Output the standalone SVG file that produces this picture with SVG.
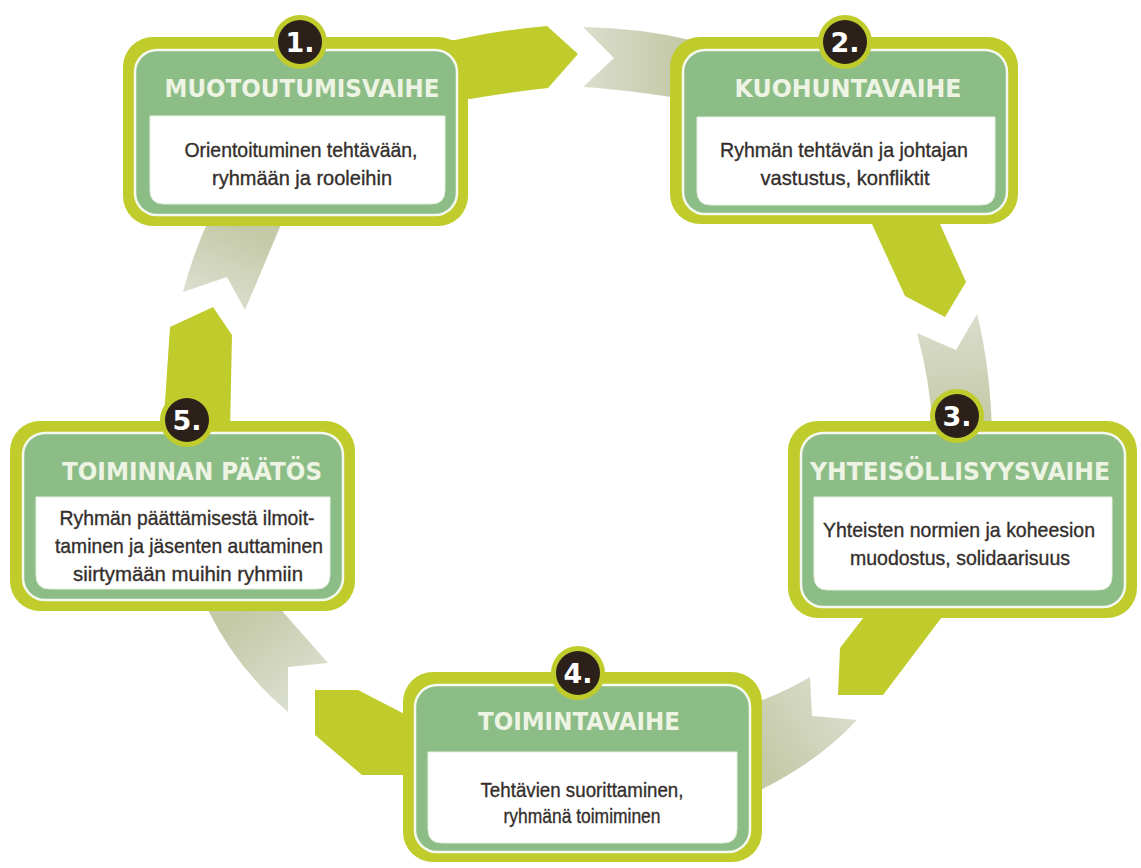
<svg xmlns="http://www.w3.org/2000/svg" width="1141" height="868" viewBox="0 0 1141 868">
<defs>
<style>
.lime{fill:#bfcc2b}
.frame{fill:#bfcc2b}
.panel{fill:#8dbd87;stroke:#f4f8ee;stroke-width:2.5}
.body{fill:#ffffff;stroke:#e6efe0;stroke-width:1}
.title{font-family:"DejaVu Sans",Verdana,sans-serif;font-weight:bold;font-size:24px;fill:#eef4e4;text-anchor:middle}
.txt{font-family:"Liberation Sans",Arial,sans-serif;font-size:21px;fill:#332e2b;stroke:#332e2b;stroke-width:0.35;text-anchor:middle}
.ring{fill:#bfcc2b}
.dot{fill:#2c201b}
.num{font-family:"DejaVu Sans",Verdana,sans-serif;font-weight:bold;font-size:27px;fill:#ffffff;text-anchor:middle}
</style>
<linearGradient id="g12" gradientUnits="userSpaceOnUse" x1="583" y1="60" x2="680" y2="60"><stop offset="0" stop-color="#dadecd"/><stop offset="1" stop-color="#c4c9a7"/></linearGradient>
<linearGradient id="g23" gradientUnits="userSpaceOnUse" x1="950" y1="315" x2="960" y2="425"><stop offset="0" stop-color="#dadecd"/><stop offset="1" stop-color="#c4c9a7"/></linearGradient>
<linearGradient id="g34" gradientUnits="userSpaceOnUse" x1="850" y1="700" x2="760" y2="760"><stop offset="0" stop-color="#dadecd"/><stop offset="1" stop-color="#c4c9a7"/></linearGradient>
<linearGradient id="g45" gradientUnits="userSpaceOnUse" x1="305" y1="690" x2="245" y2="612"><stop offset="0" stop-color="#dadecd"/><stop offset="1" stop-color="#c4c9a7"/></linearGradient>
<linearGradient id="g51" gradientUnits="userSpaceOnUse" x1="215" y1="300" x2="245" y2="228"><stop offset="0" stop-color="#dadecd"/><stop offset="1" stop-color="#c4c9a7"/></linearGradient>
</defs>
<rect width="1141" height="868" fill="#ffffff"/>

<g id="connectors">
  <!-- 1 -> 2 -->
  <path class="lime" d="M430 40 L455 40 Q500 30 547 26 L578 54 L548 88 Q510 92 470 99 L430 99 Z"/>
  <path fill="url(#g12)" d="M583 27 L614 58 L583 87 Q630 90 690 100 L690 40 Q640 28 583 27 Z"/>
  <!-- 2 -> 3 -->
  <path class="lime" d="M868 210 L872 224 L905 296 L945 317 L966 282 L940 224 L942 210 Z"/>
  <path fill="url(#g23)" d="M917 333 L956 350 L977 314 Q990 365 992 432 L933 432 Q930 380 917 333 Z"/>
  <!-- 3 -> 4 -->
  <path class="lime" d="M867 605 L867 613 L840 648 L838 695 L883 695 L945 613 L945 605 Z"/>
  <path fill="url(#g34)" d="M810 677 L812 716 L857 720 Q815 765 750 795 L750 705 Q785 692 810 677 Z"/>
  <!-- 4 -> 5 -->
  <path class="lime" d="M315 690 L358 690 L420 722 L420 775 L362 775 L315 735 Z"/>
  <path fill="url(#g45)" d="M207 600 L283 600 L283 612 L328 663 L288 667 L288 712 Q238 670 209 612 Z"/>
  <!-- 5 -> 1 -->
  <path class="lime" d="M163 432 L170 327 L213 307 L232 335 L230 432 Z"/>
  <path fill="url(#g51)" d="M183 292 L227 277 L245 310 L285 215 L211 215 Q194 250 183 292 Z"/>
</g>

<g id="node1">
  <rect class="frame" x="123" y="37" width="345" height="189" rx="30"/>
  <rect class="panel" x="135" y="50" width="322" height="165" rx="22"/>
  <path class="body" d="M150 116 H445 V190 Q445 204 431 204 H164 Q150 204 150 190 Z"/>
  <circle class="ring" cx="300" cy="42" r="27"/>
  <circle class="dot" cx="300" cy="42" r="22"/>
  <text class="num" x="300" y="52">1.</text>
  <text class="title" x="302" y="97" textLength="275" lengthAdjust="spacingAndGlyphs">MUOTOUTUMISVAIHE</text>
  <text class="txt" x="301" y="157" textLength="233" lengthAdjust="spacingAndGlyphs">Orientoituminen tehtävään,</text>
  <text class="txt" x="302" y="185" textLength="180" lengthAdjust="spacingAndGlyphs">ryhmään ja rooleihin</text>
</g>

<g id="node2">
  <rect class="frame" x="670" y="37" width="348" height="187" rx="30"/>
  <rect class="panel" x="683" y="50" width="324" height="164" rx="22"/>
  <path class="body" d="M697 117 H995 V191 Q995 205 981 205 H711 Q697 205 697 191 Z"/>
  <circle class="ring" cx="845" cy="42" r="27"/>
  <circle class="dot" cx="845" cy="42" r="22"/>
  <text class="num" x="845" y="52">2.</text>
  <text class="title" x="848" y="97" textLength="227" lengthAdjust="spacingAndGlyphs">KUOHUNTAVAIHE</text>
  <text class="txt" x="844" y="157" textLength="248" lengthAdjust="spacingAndGlyphs">Ryhmän tehtävän ja johtajan</text>
  <text class="txt" x="845" y="185" textLength="169" lengthAdjust="spacingAndGlyphs">vastustus, konfliktit</text>
</g>

<g id="node3">
  <rect class="frame" x="788" y="421" width="349" height="197" rx="30"/>
  <rect class="panel" x="801" y="433" width="324" height="174" rx="22"/>
  <path class="body" d="M814 497 H1112 V576 Q1112 590 1098 590 H828 Q814 590 814 576 Z"/>
  <circle class="ring" cx="957" cy="416" r="27"/>
  <circle class="dot" cx="957" cy="416" r="22"/>
  <text class="num" x="957" y="426">3.</text>
  <text class="title" x="960" y="480" textLength="300" lengthAdjust="spacingAndGlyphs">YHTEISÖLLISYYSVAIHE</text>
  <text class="txt" x="959" y="537" textLength="272" lengthAdjust="spacingAndGlyphs">Yhteisten normien ja koheesion</text>
  <text class="txt" x="960" y="565" textLength="220" lengthAdjust="spacingAndGlyphs">muodostus, solidaarisuus</text>
</g>

<g id="node4">
  <rect class="frame" x="403" y="672" width="359" height="190" rx="30"/>
  <rect class="panel" x="415" y="685" width="335" height="167" rx="22"/>
  <path class="body" d="M428 752 H737 V829 Q737 843 723 843 H442 Q428 843 428 829 Z"/>
  <circle class="ring" cx="578" cy="673" r="27"/>
  <circle class="dot" cx="578" cy="673" r="22"/>
  <text class="num" x="578" y="683">4.</text>
  <text class="title" x="579" y="730" textLength="202" lengthAdjust="spacingAndGlyphs">TOIMINTAVAIHE</text>
  <text class="txt" x="582" y="797" textLength="203" lengthAdjust="spacingAndGlyphs">Tehtävien suorittaminen,</text>
  <text class="txt" x="582" y="823" textLength="157" lengthAdjust="spacingAndGlyphs">ryhmänä toimiminen</text>
</g>

<g id="node5">
  <rect class="frame" x="10" y="421" width="345" height="190" rx="30"/>
  <rect class="panel" x="23" y="433" width="320" height="167" rx="22"/>
  <path class="body" d="M36 497 H330 V575 Q330 589 316 589 H50 Q36 589 36 575 Z"/>
  <circle class="ring" cx="187" cy="420" r="27"/>
  <circle class="dot" cx="187" cy="420" r="22"/>
  <text class="num" x="187" y="430">5.</text>
  <text class="title" x="192" y="480" textLength="260" lengthAdjust="spacingAndGlyphs">TOIMINNAN PÄÄTÖS</text>
  <text class="txt" x="187" y="525" textLength="255" lengthAdjust="spacingAndGlyphs">Ryhmän päättämisestä ilmoit-</text>
  <text class="txt" x="189" y="553" textLength="268" lengthAdjust="spacingAndGlyphs">taminen ja jäsenten auttaminen</text>
  <text class="txt" x="188" y="581" textLength="230" lengthAdjust="spacingAndGlyphs">siirtymään muihin ryhmiin</text>
</g>
</svg>
